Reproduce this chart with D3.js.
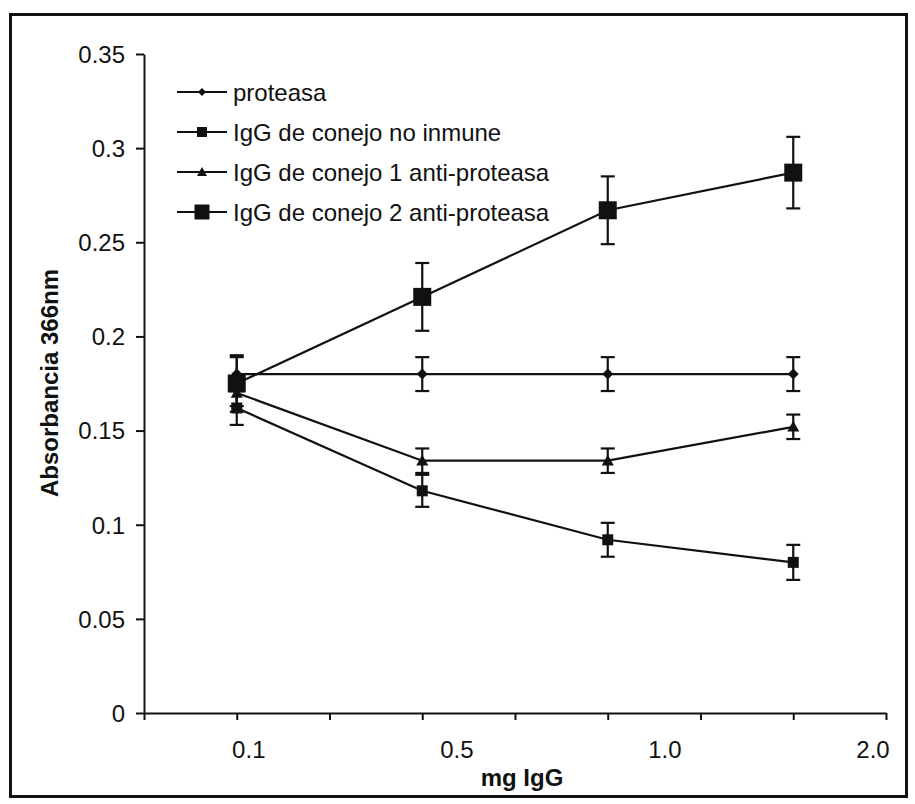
<!DOCTYPE html>
<html>
<head>
<meta charset="utf-8">
<script src="https://cdn.jsdelivr.net/npm/d3@7"></script>
<style>
  body { margin: 0; background: #fff; }
  text { font-family: "Liberation Sans", Arial, sans-serif; fill: #111; }
</style>
</head>
<body>
<div id="chart"></div>
<script>
// data
const doseLabels = ["0.1", "0.5", "1.0", "2.0"];
const yTicks = [0, 0.05, 0.1, 0.15, 0.2, 0.25, 0.3, 0.35];

const proteasa = [0.180, 0.180, 0.180, 0.180];
const proteasaErr = [0.009, 0.009, 0.009, 0.009];
const noInmune = [0.162, 0.118, 0.092, 0.080];
const noInmuneErr = [0.009, 0.0085, 0.009, 0.0093];
const anti1 = [0.170, 0.134, 0.134, 0.152];
const anti1Err = [0.007, 0.0065, 0.0065, 0.0065];
const anti2 = [0.175, 0.221, 0.267, 0.287];
const anti2Err = [0.015, 0.018, 0.018, 0.019];

const seriesNames = [
  "proteasa",
  "IgG de conejo no inmune",
  "IgG de conejo 1 anti-proteasa",
  "IgG de conejo 2 anti-proteasa"
];

const series = [
  { name: seriesNames[0], values: proteasa, err: proteasaErr, shape: "diamond", size: 11, legSize: 8 },
  { name: seriesNames[1], values: noInmune, err: noInmuneErr, shape: "square", size: 11, legSize: 10 },
  { name: seriesNames[2], values: anti1, err: anti1Err, shape: "triangle", size: 12, legSize: 10 },
  { name: seriesNames[3], values: anti2, err: anti2Err, shape: "square", size: 18, legSize: 15 }
];

const W = 915, H = 804;
const svg = d3.select("#chart").append("svg")
  .attr("width", W).attr("height", H);

// outer frame
svg.append("rect")
  .attr("x", 10.5).attr("y", 14.5)
  .attr("width", 896).attr("height", 782)
  .attr("fill", "none").attr("stroke", "#111").attr("stroke-width", 3);

// axis runs over 8 intervals, the points sit on the odd ticks
const x = d3.scaleLinear().domain([0, 8]).range([144, 886]);
const y = d3.scaleLinear().domain([0, 0.35]).range([713, 54]);
const px = i => x(2 * i + 1);

const yAxis = svg.append("g")
  .attr("transform", "translate(144,0)")
  .call(d3.axisLeft(y).tickValues(yTicks).tickSize(8).tickSizeOuter(0).tickPadding(11)
    .tickFormat(d => String(+d.toFixed(2))));
yAxis.selectAll("text").style("font-size", "24px").attr("dy", "0.35em");
yAxis.selectAll("line, path").attr("stroke", "#111").attr("stroke-width", 2);

const xAxis = svg.append("g")
  .attr("transform", "translate(0,713)")
  .call(d3.axisBottom(x).tickValues(d3.range(0, 9)).tickSize(7).tickSizeOuter(0).tickFormat(""));
xAxis.selectAll("line, path").attr("stroke", "#111").attr("stroke-width", 2);

// dose labels are spread evenly under the axis
const labelX = d3.scalePoint().domain(doseLabels).range([x(1.13), x(7.86)]);
svg.append("g").selectAll("text")
  .data(doseLabels).enter().append("text")
  .attr("x", d => labelX(d))
  .attr("y", 758)
  .attr("text-anchor", "middle")
  .style("font-size", "24px")
  .text(d => d);

// axis titles
svg.append("text")
  .attr("x", 522).attr("y", 786)
  .attr("text-anchor", "middle")
  .style("font-size", "24px").style("font-weight", "bold")
  .text("mg IgG");

svg.append("text")
  .attr("transform", "translate(58,383) rotate(-90)")
  .attr("text-anchor", "middle")
  .style("font-size", "24px").style("font-weight", "bold")
  .text("Absorbancia 366nm");

function marker(g, shape, size) {
  if (shape === "square") {
    g.append("rect")
      .attr("x", -size / 2).attr("y", -size / 2)
      .attr("width", size).attr("height", size);
  } else if (shape === "diamond") {
    const r = size / 2;
    g.append("path").attr("d", `M0,${-r}L${r},0L0,${r}L${-r},0Z`);
  } else {
    const r = size / 2;
    g.append("path").attr("d", `M0,${-r}L${r},${r * 0.8}L${-r},${r * 0.8}Z`);
  }
}

const line = d3.line()
  .x((d, i) => px(i))
  .y(d => y(d));

series.forEach(s => {
  const g = svg.append("g");

  g.append("path")
    .datum(s.values)
    .attr("fill", "none")
    .attr("stroke", "#111")
    .attr("stroke-width", 2.2)
    .attr("d", line);

  // error bars
  s.values.forEach((v, i) => {
    const e = s.err[i];
    const eb = g.append("g").attr("stroke", "#111").attr("stroke-width", 2.2);
    eb.append("line").attr("x1", px(i)).attr("x2", px(i)).attr("y1", y(v + e)).attr("y2", y(v - e));
    eb.append("line").attr("x1", px(i) - 7).attr("x2", px(i) + 7).attr("y1", y(v + e)).attr("y2", y(v + e));
    eb.append("line").attr("x1", px(i) - 7).attr("x2", px(i) + 7).attr("y1", y(v - e)).attr("y2", y(v - e));
  });

  s.values.forEach((v, i) => {
    const m = g.append("g")
      .attr("transform", `translate(${px(i)},${y(v)})`)
      .attr("fill", "#111");
    marker(m, s.shape, s.size);
  });
});

// legend
const legend = svg.append("g");
series.forEach((s, i) => {
  const row = legend.append("g").attr("transform", `translate(177,${92 + i * 40})`);
  row.append("line")
    .attr("x1", 0).attr("x2", 50)
    .attr("stroke", "#111").attr("stroke-width", 2.2);
  const m = row.append("g").attr("transform", "translate(25,0)").attr("fill", "#111");
  marker(m, s.shape, s.legSize);
  row.append("text")
    .attr("x", 56).attr("dy", "0.36em")
    .style("font-size", "24px")
    .text(s.name);
});
</script>
</body>
</html>
